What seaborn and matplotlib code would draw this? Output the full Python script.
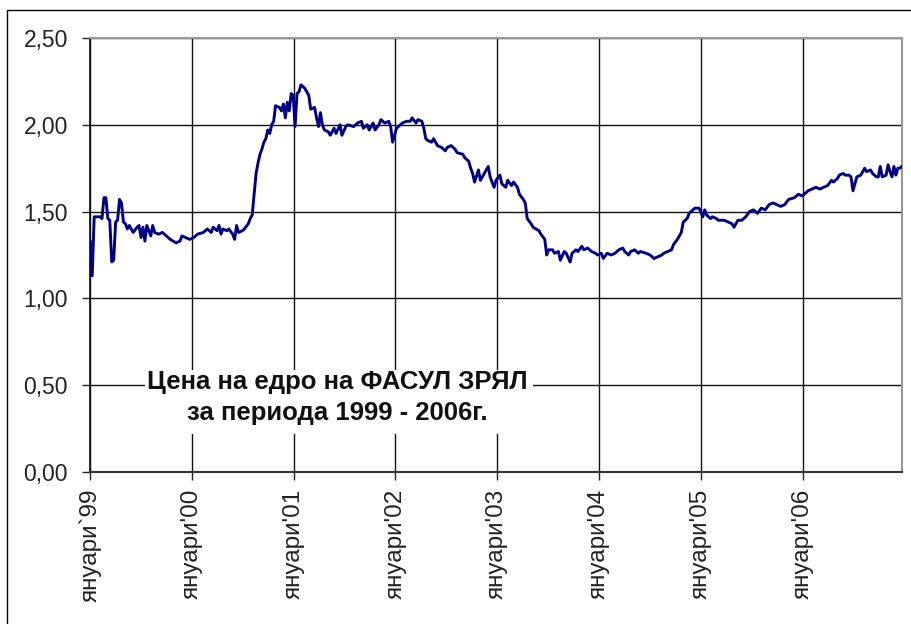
import numpy as np
import pandas as pd
import matplotlib.pyplot as plt
from matplotlib.patches import Rectangle
import seaborn as sns

# weekly wholesale price, weeks counted from the start of 1999
weeks = [
    # 1999
    0, 1, 2, 3, 5, 6, 7, 8, 9, 10, 11, 12, 13, 14, 15, 16, 17, 18, 19, 20,
    22, 24, 25, 26, 27, 28, 29, 31, 32, 33, 35, 37, 39, 41, 44, 46, 47, 49, 51,
    # 2000
    53, 55, 58, 60, 62, 63, 65, 66, 67, 68, 70, 71, 73, 74, 75, 76, 78, 79, 81,
    82, 83, 84, 85, 86, 87, 88, 89, 90, 91, 92, 93, 94, 95, 97, 98, 99, 100, 101, 102, 103,
    # 2001
    104, 105, 106, 107, 108, 109, 110, 112, 113, 115, 116, 117, 118, 119, 120,
    122, 123, 125, 126, 128, 129, 131, 132, 135, 137, 139, 140, 142, 143, 145, 146,
    148, 149, 151, 153, 154,
    # 2002
    155, 157, 158, 160, 162, 164, 165, 167, 168, 170, 171, 172, 173, 175, 176, 178,
    180, 182, 183, 185, 187, 188, 191, 192, 194, 195, 196, 197, 199, 200, 202, 204, 205,
    # 2003
    207, 208, 210, 211, 213, 214, 216, 217, 219, 220, 222, 223, 224, 226, 227, 230,
    231, 233, 234, 235, 237, 238, 240, 241, 243, 244, 246, 247, 249, 250, 252, 253, 255, 257,
    # 2004
    259, 260, 262, 263, 265, 267, 269, 271, 273, 274, 276, 277, 279, 281, 282, 285,
    287, 289, 291, 293, 294, 296, 298, 299, 301, 303, 304, 306, 307, 309, 310,
    # 2005
    312, 313, 314, 315, 316, 318, 319, 321, 322, 325, 327, 329, 330, 332, 334, 336,
    338, 340, 342, 344, 346, 348, 350, 352, 354, 356, 358, 361,
    # 2006
    363, 365, 367, 368, 370, 372, 374, 376, 378, 380, 381, 383, 384, 386, 387, 389,
    390, 391, 392, 393, 395, 397, 398, 400, 401, 403, 404, 405, 406, 408, 409, 410,
    411, 412, 413, 414, 415, 416,
]
price = [
    # 1999
    1.33, 1.13, 1.47, 1.47, 1.47, 1.46, 1.58, 1.58, 1.46, 1.45, 1.21, 1.22, 1.44, 1.45, 1.57, 1.55, 1.44, 1.43, 1.40, 1.42,
    1.38, 1.41, 1.42, 1.35, 1.41, 1.33, 1.42, 1.36, 1.42, 1.38, 1.37, 1.38, 1.36, 1.34, 1.32, 1.33, 1.36, 1.35, 1.34,
    # 2000
    1.35, 1.37, 1.38, 1.40, 1.38, 1.41, 1.39, 1.42, 1.37, 1.40, 1.39, 1.40, 1.37, 1.34, 1.42, 1.38, 1.39, 1.40, 1.43,
    1.46, 1.48, 1.60, 1.72, 1.78, 1.83, 1.86, 1.90, 1.92, 1.97, 1.95, 2.00, 2.02, 2.11, 2.10, 2.08, 2.12, 2.04, 2.13, 2.08, 2.18,
    # 2001
    2.17, 1.99, 2.18, 2.19, 2.23, 2.22, 2.21, 2.17, 2.09, 2.10, 2.04, 1.99, 2.07, 2.00, 1.97,
    1.96, 1.94, 1.98, 1.95, 2.00, 1.94, 1.99, 2.00, 1.99, 2.01, 2.02, 1.98, 2.00, 1.97, 2.01, 1.97,
    2.00, 2.03, 2.01, 2.02, 1.99,
    # 2002
    1.90, 1.98, 1.99, 2.01, 2.02, 2.02, 2.04, 2.01, 2.03, 2.02, 1.98, 1.92, 1.91, 1.90, 1.92, 1.88,
    1.87, 1.85, 1.87, 1.88, 1.86, 1.84, 1.83, 1.81, 1.79, 1.75, 1.72, 1.67, 1.74, 1.68, 1.72, 1.76, 1.70,
    # 2003
    1.64, 1.68, 1.71, 1.66, 1.64, 1.68, 1.65, 1.67, 1.64, 1.60, 1.57, 1.55, 1.46, 1.43, 1.41, 1.39,
    1.37, 1.34, 1.25, 1.28, 1.28, 1.26, 1.27, 1.22, 1.27, 1.26, 1.21, 1.26, 1.28, 1.27, 1.30, 1.28, 1.29, 1.27,
    # 2004
    1.26, 1.25, 1.26, 1.23, 1.26, 1.25, 1.26, 1.28, 1.29, 1.27, 1.25, 1.27, 1.28, 1.26, 1.27, 1.26,
    1.25, 1.23, 1.24, 1.25, 1.26, 1.27, 1.28, 1.31, 1.34, 1.38, 1.44, 1.46, 1.49, 1.51, 1.52,
    # 2005
    1.52, 1.50, 1.47, 1.51, 1.48, 1.46, 1.47, 1.46, 1.45, 1.45, 1.44, 1.43, 1.41, 1.45, 1.45, 1.47,
    1.50, 1.51, 1.49, 1.52, 1.51, 1.54, 1.55, 1.54, 1.53, 1.54, 1.57, 1.58,
    # 2006
    1.60, 1.59, 1.61, 1.62, 1.63, 1.64, 1.63, 1.64, 1.65, 1.68, 1.67, 1.69, 1.71, 1.72, 1.71, 1.71,
    1.70, 1.62, 1.66, 1.70, 1.71, 1.75, 1.73, 1.74, 1.72, 1.70, 1.70, 1.76, 1.70, 1.71, 1.77, 1.73,
    1.70, 1.76, 1.71, 1.75, 1.75, 1.76,
]

year_ticks = ["1999-01-01", "2000-01-01", "2001-01-01", "2002-01-01",
              "2003-01-01", "2004-01-01", "2005-01-01", "2006-01-01"]
year_labels = ["януари`99", "януари'00", "януари'01", "януари'02",
               "януари'03", "януари'04", "януари'05", "януари'06"]
y_ticks = [0.0, 0.5, 1.0, 1.5, 2.0, 2.5]
y_labels = ["0,00", "0,50", "1,00", "1,50", "2,00", "2,50"]
caption = "Цена на едро на ФАСУЛ ЗРЯЛ\nза периода 1999 - 2006г."


def make_chart():
    sns.set_theme(style="white")
    plt.rcParams['font.family'] = ['Liberation Sans', 'DejaVu Sans']

    df = pd.DataFrame({
        "date": pd.Timestamp("1999-01-02") + pd.to_timedelta(np.array(weeks) * 7, unit="D"),
        "price": price,
    })

    fig = plt.figure(figsize=(9.12, 6.24), dpi=100)
    fig.patch.set_facecolor("white")
    ax = fig.add_axes([90 / 912, 152 / 624, 812 / 912, 434 / 624])

    sns.lineplot(data=df, x="date", y="price", ax=ax, color="#000080",
                 linewidth=2.1, zorder=3)

    ax.set_xlim(pd.Timestamp("1999-01-01"), pd.Timestamp("2006-12-24"))
    ax.set_ylim(0, 2.5)
    ax.set_xticks(pd.to_datetime(year_ticks))
    ax.set_xticklabels(year_labels, rotation=90, ha="center", va="top")
    ax.set_yticks(y_ticks)
    ax.set_yticklabels(y_labels)
    ax.set_xlabel("")
    ax.set_ylabel("")

    ax.grid(True, color="#111111", linewidth=1.0)
    ax.set_axisbelow(True)
    ax.tick_params(axis="both", bottom=True, left=True, direction="out",
                   length=6, width=1, color="#222222", labelcolor="#222222")
    ax.tick_params(axis="y", pad=10, labelsize=16.5)
    ax.tick_params(axis="x", pad=6, labelsize=17.5)

    for side in ["top", "right"]:
        ax.spines[side].set_color("#999999")
        ax.spines[side].set_linewidth(1.5)
    ax.spines["left"].set_color("#111111")
    ax.spines["bottom"].set_color("#333333")
    ax.spines["bottom"].set_linewidth(1.5)

    # white box behind the caption hides the grid
    ax.add_patch(Rectangle((0.068, 0.088), 0.478, 0.147, transform=ax.transAxes,
                           facecolor="white", edgecolor="none", zorder=1.5))
    ax.text(0.305, 0.172, caption, transform=ax.transAxes, ha="center",
            va="center", fontsize=18.5, fontweight="bold", linespacing=1.35,
            color="#111111", zorder=4)

    # outer chart frame
    fig.add_artist(Rectangle((7 / 912, -0.05), 1.1, 1 - 10 / 624 + 0.05,
                             transform=fig.transFigure, fill=False,
                             edgecolor="black", linewidth=1.0))

    fig.savefig("out.png", dpi=100)
    plt.close(fig)


if __name__ == "__main__":
    make_chart()
